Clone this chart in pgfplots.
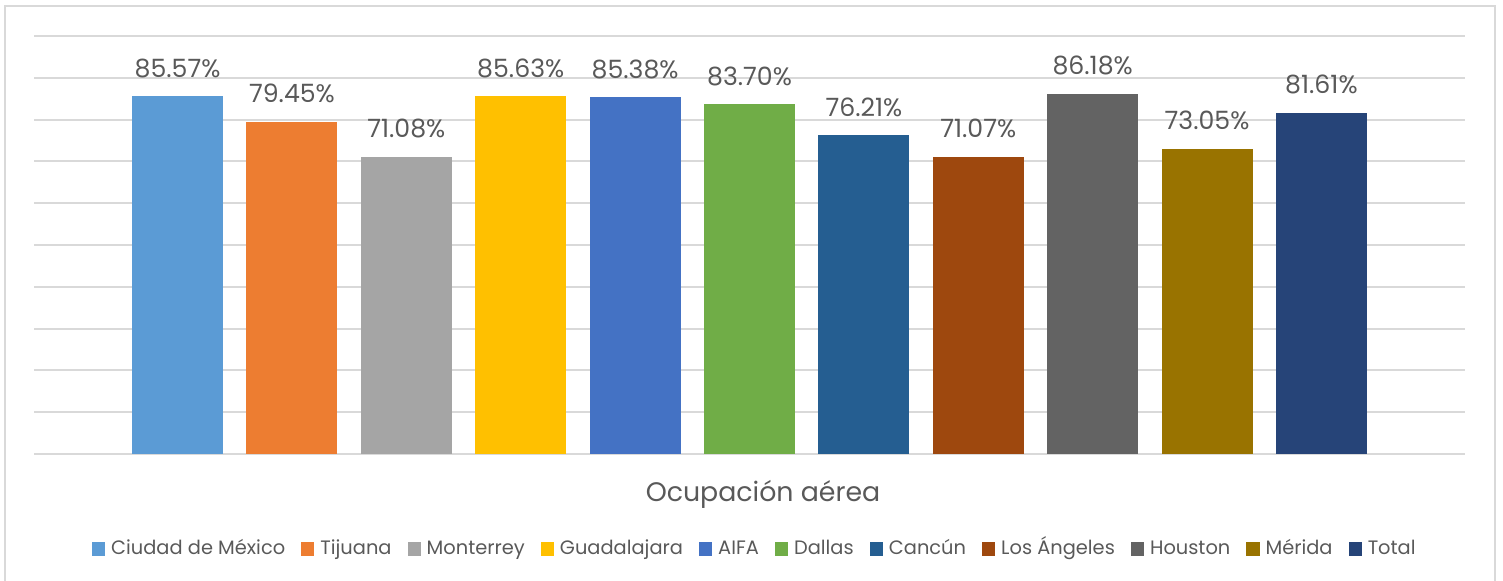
\documentclass[border=0pt]{standalone}
\usepackage{pgfplots}
\pgfplotsset{compat=1.18}
\usepackage{fontspec}
\setmainfont{Poppins}
\definecolor{c1}{HTML}{5B9BD5}
\definecolor{c2}{HTML}{ED7D31}
\definecolor{c3}{HTML}{A5A5A5}
\definecolor{c4}{HTML}{FFC000}
\definecolor{c5}{HTML}{4472C4}
\definecolor{c6}{HTML}{70AD47}
\definecolor{c7}{HTML}{255E91}
\definecolor{c8}{HTML}{9E480E}
\definecolor{c9}{HTML}{636363}
\definecolor{c10}{HTML}{997300}
\definecolor{c11}{HTML}{264478}
\definecolor{txt}{HTML}{595959}
\definecolor{grd}{HTML}{D9D9D9}
\pgfplotsset{sqlegend/.style={legend image code/.code={\fill[##1] (0pt,-3.3pt) rectangle (6.6pt,3.3pt);}}}
\begin{document}
\begin{tikzpicture}
\path[use as bounding box] (-17pt,-63.5pt) rectangle (734.5pt,227pt);
\draw[grd, line width=1pt] (-14.5pt,-64pt) rectangle (730.5pt,224pt);
\begin{axis}[at={(0pt,0pt)}, anchor=south west, scale only axis,
  width=715.5pt, height=209pt,
  xmin=-1.255, xmax=11.255, ymin=0, ymax=100,
  ytick={0,10,...,100}, yticklabels={}, xtick=\empty,
  ymajorgrids, major grid style={grd, line width=1pt},
  axis line style={draw=none}, tick style={draw=none},
  clip=false,
  ybar, bar shift=0pt, bar width=45.5pt,
  nodes near coords={\pgfmathprintnumber[fixed,fixed zerofill,precision=2,assume math mode=true]{\pgfplotspointmeta}\%},
  every node near coord/.append style={font=\fontsize{12.6}{13}\selectfont, text=txt, anchor=base, yshift=9.5pt, inner sep=0pt},
  legend style={at={(0.503,-0.2273)}, anchor=center, draw=none, fill=none,
    font=\fontsize{9.7}{11}\selectfont, text=txt, legend columns=-1,
    nodes={inner xsep=0pt, text height=7pt, text depth=2pt},
    /tikz/every odd column/.append style={column sep=3pt},
    /tikz/every even column/.append style={column sep=8pt}},
]
\addplot[fill=c1, draw=none, sqlegend] coordinates {(0,85.57)};
\addlegendentry{Ciudad de México}
\addplot[fill=c2, draw=none, sqlegend] coordinates {(1,79.45)};
\addlegendentry{Tijuana}
\addplot[fill=c3, draw=none, sqlegend] coordinates {(2,71.08)};
\addlegendentry{Monterrey}
\addplot[fill=c4, draw=none, sqlegend] coordinates {(3,85.63)};
\addlegendentry{Guadalajara}
\addplot[fill=c5, draw=none, sqlegend] coordinates {(4,85.38)};
\addlegendentry{AIFA}
\addplot[fill=c6, draw=none, sqlegend] coordinates {(5,83.70)};
\addlegendentry{Dallas}
\addplot[fill=c7, draw=none, sqlegend] coordinates {(6,76.21)};
\addlegendentry{Cancún}
\addplot[fill=c8, draw=none, sqlegend] coordinates {(7,71.07)};
\addlegendentry{Los Ángeles}
\addplot[fill=c9, draw=none, sqlegend] coordinates {(8,86.18)};
\addlegendentry{Houston}
\addplot[fill=c10, draw=none, sqlegend] coordinates {(9,73.05)};
\addlegendentry{Mérida}
\addplot[fill=c11, draw=none, sqlegend] coordinates {(10,81.61)};
\addlegendentry{Total}
\end{axis}
\node[text=txt, font=\fontsize{13.4}{15}\selectfont] at (364.5pt,-20pt) {Ocupación aérea};
\end{tikzpicture}
\end{document}
